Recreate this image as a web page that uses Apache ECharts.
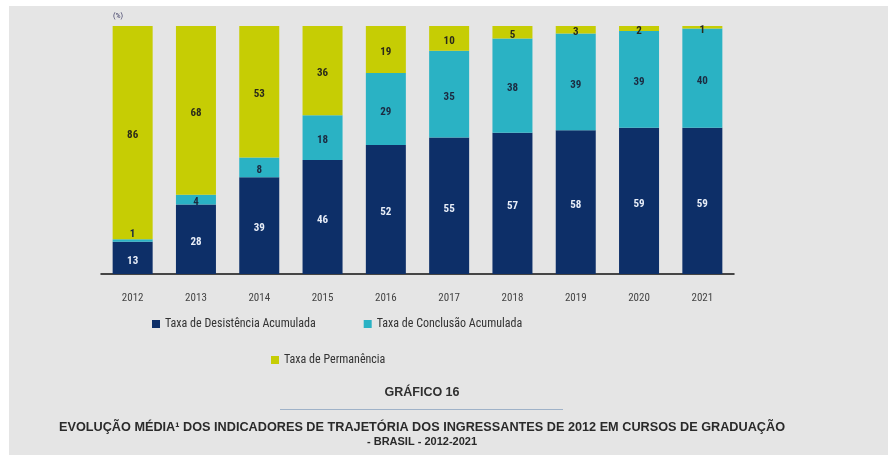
<!DOCTYPE html>
<html>
<head>
<meta charset="utf-8">
<script src="https://cdn.jsdelivr.net/npm/echarts@6/dist/echarts.min.js"></script>
<style>
  html, body { margin: 0; padding: 0; background: #ffffff; }
  #chart { width: 888px; height: 455px; }
</style>
</head>
<body>
<div id="chart"></div>
<script>
// Trajectory indicators of the 2012 entry cohort (%)
const years = ['2012', '2013', '2014', '2015', '2016', '2017', '2018', '2019', '2020', '2021'];
const desistencia = [13, 28, 39, 46, 52, 55, 57, 58, 59, 59];
const conclusao = [1, 4, 8, 18, 29, 35, 38, 39, 39, 40];
const permanencia = [86, 68, 53, 36, 19, 10, 5, 3, 2, 1];

const seriesNames = [
  'Taxa de Desistência Acumulada',
  'Taxa de Conclusão Acumulada',
  'Taxa de Permanência'
];

const NAVY = '#0d2f68';
const TEAL = '#2ab2c4';
const YELLOW = '#c6cd04';
const FONT = "'Liberation Sans Narrow', 'Roboto Condensed', Roboto, sans-serif";
const HEAD_FONT = "'Liberation Sans', Arial, sans-serif";

const chart = echarts.init(document.getElementById('chart'), null, { renderer: 'canvas' });

function labelStyle(color) {
  return {
    show: true,
    position: 'inside',
    offset: [0, 3],
    color: color,
    fontFamily: FONT,
    fontSize: 11,
    fontWeight: 'bold'
  };
}

chart.setOption({
  backgroundColor: '#ffffff',
  animation: false,
  graphic: [
    {
      type: 'rect',
      z: -10,
      shape: { x: 9, y: 6, width: 879, height: 449 },
      style: { fill: '#e5e5e5' },
      silent: true
    },
    {
      type: 'text',
      left: 113,
      top: 12,
      style: { text: '(%)', fill: '#3b3a63', font: "8px " + FONT }
    },
    {
      type: 'text',
      x: 422,
      y: 393,
      style: {
        text: 'GRÁFICO 16',
        fill: '#2f2f2f',
        font: "bold 12.5px " + HEAD_FONT,
        align: 'center',
        verticalAlign: 'middle'
      }
    },
    {
      type: 'line',
      shape: { x1: 280, y1: 409.5, x2: 563, y2: 409.5 },
      style: { stroke: '#9fb2c8', lineWidth: 1 }
    },
    {
      type: 'text',
      x: 422,
      y: 427,
      style: {
        text: 'EVOLUÇÃO MÉDIA¹ DOS INDICADORES DE TRAJETÓRIA DOS INGRESSANTES DE 2012 EM CURSOS DE GRADUAÇÃO',
        fill: '#2a2a2a',
        font: "bold 12.7px " + HEAD_FONT,
        align: 'center',
        verticalAlign: 'middle'
      }
    },
    {
      type: 'text',
      x: 422,
      y: 442,
      style: {
        text: '- BRASIL - 2012-2021',
        fill: '#2a2a2a',
        font: "bold 11px " + HEAD_FONT,
        align: 'center',
        verticalAlign: 'middle'
      }
    }
  ],
  legend: [
    {
      data: [seriesNames[0], seriesNames[1]],
      left: 147,
      top: 313,
      itemWidth: 8,
      itemHeight: 8,
      itemGap: 48,
      icon: 'rect',
      textStyle: { color: '#333333', fontFamily: FONT, fontSize: 12 }
    },
    {
      data: [seriesNames[2]],
      left: 266,
      top: 349,
      itemWidth: 8,
      itemHeight: 8,
      icon: 'rect',
      textStyle: { color: '#333333', fontFamily: FONT, fontSize: 12 }
    }
  ],
  grid: { left: 101, right: 154, top: 26, bottom: 181 },
  xAxis: {
    type: 'category',
    data: years,
    axisLine: { lineStyle: { color: '#111111', width: 1.5 } },
    axisTick: { show: false },
    axisLabel: { color: '#444444', fontFamily: FONT, fontSize: 11, margin: 19 }
  },
  yAxis: {
    type: 'value',
    min: 0,
    max: 100,
    show: false,
    splitLine: { show: false }
  },
  series: [
    {
      name: seriesNames[0],
      type: 'bar',
      stack: 'total',
      barWidth: 40,
      itemStyle: { color: NAVY },
      label: labelStyle('#e8eef8'),
      data: desistencia
    },
    {
      name: seriesNames[1],
      type: 'bar',
      stack: 'total',
      barWidth: 40,
      itemStyle: { color: TEAL },
      label: labelStyle('#1c2a40'),
      data: conclusao.map((v, i) => i === 0 ? { value: v, label: { offset: [0, -6] } } : v)
    },
    {
      name: seriesNames[2],
      type: 'bar',
      stack: 'total',
      barWidth: 40,
      itemStyle: { color: YELLOW },
      label: labelStyle('#2a2a1a'),
      data: permanencia
    }
  ]
});
</script>
</body>
</html>
